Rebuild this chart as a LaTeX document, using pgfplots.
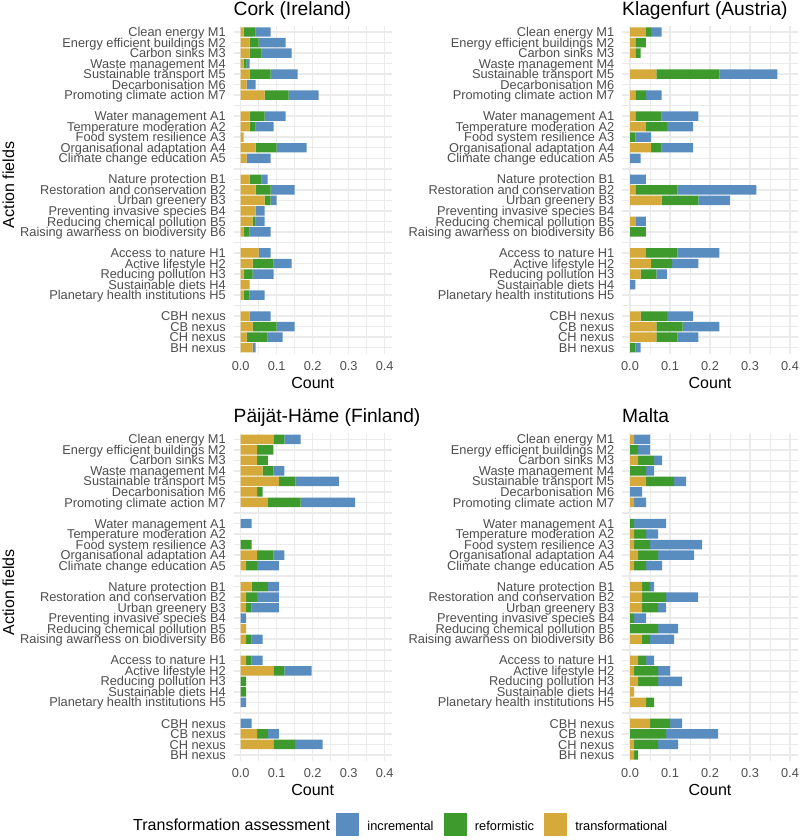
\documentclass[border=0pt]{standalone}
\usepackage{fontspec}
\setmainfont{Liberation Sans}
\usepackage{pgfplots}
\usepackage{pgfplotstable}
\pgfplotsset{compat=1.18}
\definecolor{cInc}{HTML}{5A8DBF}
\definecolor{cRef}{HTML}{3E9A2C}
\definecolor{cTra}{HTML}{D5A93A}
\definecolor{gridc}{HTML}{EBEBEB}
\definecolor{tickc}{HTML}{4D4D4D}

% y: 30 = M1 (top) ... 0 = BH nexus (bottom); gaps at 23,17,10,4
\pgfplotstableread{
y T R I
30 0.0083 0.0333 0.0417
29 0.025 0.025 0.075
28 0.025 0.0333 0.0833
27 0.0083 0.0083 0.0083
26 0.025 0.0583 0.075
25 0.0167 0 0.025
24 0.0667 0.0667 0.0833
22 0.025 0.0417 0.0583
21 0.025 0.0167 0.05
20 0.0083 0 0
19 0.0417 0.0583 0.0833
18 0.0167 0 0.0667
16 0.025 0.0333 0.0167
15 0.0417 0.0417 0.0667
14 0.0667 0.0167 0.0167
13 0.0417 0 0.025
12 0.0333 0.0083 0.025
11 0.0083 0.0167 0.0583
9 0.05 0 0.0333
8 0.0333 0.0583 0.05
7 0.0083 0.025 0.0583
6 0.025 0 0
5 0.0083 0.0167 0.0417
3 0.025 0 0.0583
2 0.0333 0.0667 0.05
1 0.0167 0.0583 0.0417
0 0.0333 0 0.0083
}\cork

\pgfplotstableread{
y T R I
30 0.0395 0.0132 0.0263
29 0.0132 0.0263 0
28 0.0132 0.0132 0
26 0.0658 0.1579 0.1447
24 0.0132 0.0263 0.0395
22 0.0132 0.0658 0.0921
21 0.0395 0.0526 0.0658
20 0 0.0132 0.0395
19 0.0526 0.0263 0.0789
18 0 0 0.0263
16 0 0 0.0395
15 0.0132 0.1053 0.1974
14 0.0789 0.0921 0.0789
12 0.0132 0 0.0263
11 0 0.0395 0
9 0.0395 0.0789 0.1053
8 0.0526 0.0526 0.0658
7 0.0263 0.0395 0.0263
6 0 0 0.0132
3 0.0263 0.0658 0.0658
2 0.0658 0.0658 0.0921
1 0.0658 0.0526 0.0526
0 0 0.0132 0.0132
}\klagenfurt

\pgfplotstableread{
y T R I
30 0.0909 0.0303 0.0455
29 0.0455 0.0455 0
28 0.0455 0.0303 0
27 0.0606 0.0303 0.0303
26 0.1061 0.0455 0.1212
25 0.0455 0.0152 0
24 0.0758 0.0909 0.1515
22 0 0 0.0303
20 0 0.0303 0
19 0.0455 0.0455 0.0303
18 0.0152 0.0303 0.0606
16 0.0303 0.0455 0.0303
15 0.0152 0.0303 0.0606
14 0.0152 0.0152 0.0758
13 0 0 0.0152
12 0.0152 0 0
11 0.0152 0.0152 0.0303
9 0.0152 0.0152 0.0303
8 0.0909 0.0303 0.0758
7 0 0.0152 0
6 0 0.0152 0
5 0 0 0.0152
3 0 0 0.0303
2 0.0455 0.0303 0.0303
1 0.0909 0.0606 0.0758
}\paijat

\pgfplotstableread{
y T R I
30 0.01 0 0.04
29 0 0.02 0.03
28 0.02 0.04 0.02
27 0 0.04 0.02
26 0.04 0.07 0.03
25 0 0 0.03
24 0.01 0 0.03
22 0 0.01 0.08
21 0.01 0.03 0.03
20 0.01 0.04 0.13
19 0.02 0.05 0.09
18 0.01 0.03 0.04
16 0.03 0.02 0.01
15 0.03 0.06 0.08
14 0.03 0.04 0.02
13 0 0.01 0.03
12 0 0.07 0.05
11 0.03 0.02 0.06
9 0.02 0.02 0.02
8 0.01 0.06 0.03
7 0.02 0.05 0.06
6 0.01 0 0
5 0.04 0.02 0
3 0.05 0.05 0.03
2 0 0.09 0.13
1 0.01 0.06 0.05
0 0.01 0.01 0
}\malta

\pgfplotsset{
  panel/.style={
    scale only axis, height=328.3pt, anchor=south west,
    xbar stacked, bar width=0.9,
    xmin=-0.02, xmax=0.42, ymin=-0.6, ymax=30.6,
    xtick={0,0.1,0.2,0.3,0.4}, xticklabels={0.0,0.1,0.2,0.3,0.4},
    minor xtick={0.05,0.15,0.25,0.35},
    ytick={0,...,30},
    yticklabels={BH nexus, CH nexus, CB nexus, CBH nexus, {}, Planetary health institutions H5, Sustainable diets H4, Reducing pollution H3, Active lifestyle H2, Access to nature H1, {}, Raising awarness on biodiversity B6, Reducing chemical pollution B5, Preventing invasive species B4, Urban greenery B3, Restoration and conservation B2, Nature protection B1, {}, Climate change education A5, Organisational adaptation A4, Food system resilience A3, Temperature moderation A2, Water management A1, {}, Promoting climate action M7, Decarbonisation M6, Sustainable transport M5, Waste management M4, Carbon sinks M3, Energy efficient buildings M2, Clean energy M1},
    axis line style={draw=none},
    major tick length=0pt, minor tick length=0pt,
    tick style={draw=none},
    grid=both,
    major grid style={line width=1.5pt, draw=gridc},
    minor grid style={line width=0.75pt, draw=gridc},
    xticklabel style={anchor=base, yshift=-16.5pt, font=\fontsize{12.8}{13}\selectfont, text=tickc, inner sep=0pt},
    yticklabel style={anchor=base east, xshift=-7.5pt, yshift=-4.6pt, font=\fontsize{12.8}{13}\selectfont, text=tickc, inner sep=0pt},
    xlabel={Count},
    xlabel style={at={(axis description cs:0.5,0)}, anchor=base, yshift=-34.5pt, font=\fontsize{16}{17}\selectfont, inner sep=0pt},
    title style={at={(axis description cs:0,1)}, anchor=base west, yshift=4.5pt, font=\fontsize{19.2}{20}\selectfont, inner sep=0pt},
  },
  leftpanel/.style={panel, width=158.4pt,
    ylabel={Action fields},
    ylabel style={at={(axis description cs:-1.4205,0.515)}, anchor=center, font=\fontsize{16}{17}\selectfont, inner sep=0pt}},
  rightpanel/.style={panel, width=176pt},
}

\begin{document}
\begin{tikzpicture}
\useasboundingbox (0pt,0pt) rectangle (800pt,840pt);

\begin{axis}[leftpanel, at={(233.5pt,486pt)}, title={Cork (Ireland)}]
\addplot[fill=cTra, draw=none] table[x=T, y=y] {\cork};
\addplot[fill=cRef, draw=none] table[x=R, y=y] {\cork};
\addplot[fill=cInc, draw=none] table[x=I, y=y] {\cork};
\end{axis}

\begin{axis}[rightpanel, at={(622pt,486pt)}, title={Klagenfurt (Austria)}]
\addplot[fill=cTra, draw=none] table[x=T, y=y] {\klagenfurt};
\addplot[fill=cRef, draw=none] table[x=R, y=y] {\klagenfurt};
\addplot[fill=cInc, draw=none] table[x=I, y=y] {\klagenfurt};
\end{axis}

\begin{axis}[leftpanel, at={(233.5pt,78.7pt)}, title={Päijät-Häme (Finland)},
  legend style={at={(axis description cs:-0.6345,-0.191)}, anchor=west, draw=none, fill=none, inner sep=0pt, legend columns=4, nodes={inner sep=0pt, anchor=base west}, font=\fontsize{12.8}{13}\selectfont, column sep=0pt}]
\addlegendimage{empty legend}
\addlegendentry{\fontsize{16}{17}\selectfont Transformation assessment\rule{6pt}{0pt}}
\addlegendimage{legend image code/.code={\fill[cInc] (0pt,-5pt) rectangle (22pt,17pt);}}
\addlegendentry{\rule{9pt}{0pt}incremental\rule{10pt}{0pt}}
\addlegendimage{legend image code/.code={\fill[cRef] (0pt,-5pt) rectangle (22pt,17pt);}}
\addlegendentry{\rule{9pt}{0pt}reformistic\rule{10pt}{0pt}}
\addlegendimage{legend image code/.code={\fill[cTra] (0pt,-5pt) rectangle (22pt,17pt);}}
\addlegendentry{\rule{9pt}{0pt}transformational}
\addplot[fill=cTra, draw=none] table[x=T, y=y] {\paijat};
\addplot[fill=cRef, draw=none] table[x=R, y=y] {\paijat};
\addplot[fill=cInc, draw=none] table[x=I, y=y] {\paijat};
\end{axis}

\begin{axis}[rightpanel, at={(622pt,78.7pt)}, title={Malta}]
\addplot[fill=cTra, draw=none] table[x=T, y=y] {\malta};
\addplot[fill=cRef, draw=none] table[x=R, y=y] {\malta};
\addplot[fill=cInc, draw=none] table[x=I, y=y] {\malta};
\end{axis}
\end{tikzpicture}
\end{document}
